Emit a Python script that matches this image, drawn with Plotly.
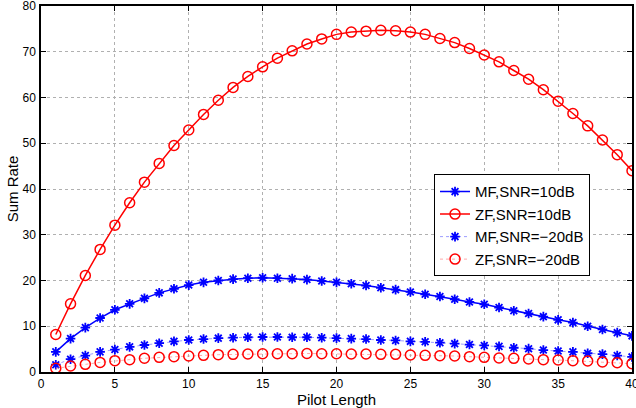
import plotly.graph_objects as go

pilot_length = list(range(1, 41))

mf_10db = [4.4, 7.3, 9.7, 11.8, 13.6, 14.9, 16.1, 17.3, 18.2, 19.0,
           19.6, 20.0, 20.3, 20.5, 20.6, 20.5, 20.4, 20.2, 19.9, 19.6,
           19.3, 18.9, 18.4, 18.0, 17.5, 17.0, 16.5, 15.9, 15.3, 14.8,
           14.1, 13.4, 12.8, 12.1, 11.4, 10.8, 10.0, 9.3, 8.6, 7.9]

zf_10db = [8.2, 14.9, 21.1, 26.8, 32.1, 37.0, 41.5, 45.6, 49.5, 52.9,
           56.3, 59.4, 62.2, 64.6, 66.7, 68.6, 70.2, 71.7, 72.8, 73.8,
           74.3, 74.5, 74.7, 74.6, 74.3, 73.8, 72.9, 72.0, 70.7, 69.3,
           67.8, 65.9, 64.0, 61.7, 59.2, 56.5, 53.8, 50.7, 47.5, 44.0]

mf_m20db = [1.6, 2.8, 3.6, 4.4, 4.9, 5.5, 5.9, 6.3, 6.7, 7.0,
            7.2, 7.4, 7.5, 7.6, 7.65, 7.65, 7.6, 7.6, 7.5, 7.4,
            7.3, 7.2, 7.0, 6.9, 6.7, 6.6, 6.4, 6.2, 6.0, 5.8,
            5.6, 5.3, 5.1, 4.8, 4.6, 4.4, 4.1, 3.9, 3.6, 3.3]

zf_m20db = [0.8, 1.3, 1.67, 2.1, 2.48, 2.7, 3.0, 3.2, 3.35, 3.5,
            3.64, 3.79, 3.86, 3.94, 4.0, 4.0, 4.0, 4.05, 4.0, 4.0,
            3.94, 3.94, 3.86, 3.86, 3.72, 3.64, 3.57, 3.5, 3.35, 3.2,
            3.06, 2.99, 2.84, 2.7, 2.62, 2.48, 2.4, 2.2, 2.04, 1.82]

x_ticks = list(range(0, 41, 5))
y_ticks = list(range(0, 81, 10))

BLUE = "#0000ff"
RED = "#ff0000"
FONT = "Liberation Sans, Arial, sans-serif"

fig = go.Figure()
fig.add_trace(go.Scatter(
    x=pilot_length, y=mf_10db, name="MF,SNR=10dB", mode="lines+markers",
    line=dict(color=BLUE, width=1.5),
    marker=dict(symbol="asterisk-open", size=8, color=BLUE, line=dict(color=BLUE, width=1.8))))
fig.add_trace(go.Scatter(
    x=pilot_length, y=zf_10db, name="ZF,SNR=10dB", mode="lines+markers",
    line=dict(color=RED, width=1.5),
    marker=dict(symbol="circle-open", size=10, color=RED, line=dict(color=RED, width=1.5))))
fig.add_trace(go.Scatter(
    x=pilot_length, y=mf_m20db, name="MF,SNR=\u221220dB", mode="lines+markers",
    line=dict(color="rgba(90,90,255,0.6)", width=1, dash="dot"),
    marker=dict(symbol="asterisk-open", size=8, color=BLUE, line=dict(color=BLUE, width=1.8))))
fig.add_trace(go.Scatter(
    x=pilot_length, y=zf_m20db, name="ZF,SNR=\u221220dB", mode="lines+markers",
    line=dict(color="rgba(255,110,110,0.6)", width=1, dash="dot"),
    marker=dict(symbol="circle-open", size=10, color=RED, line=dict(color=RED, width=1.5))))

axis_common = dict(
    showline=True, linecolor="black", linewidth=1.5, mirror="ticks",
    ticks="inside", ticklen=5, tickcolor="black", automargin=False,
    ticklabeloverflow="allow",
    showgrid=True, gridcolor="#b0b0b0", griddash="dot", gridwidth=1,
    zeroline=False, tickfont=dict(family=FONT, size=12, color="black"),
)

fig.update_xaxes(range=[0, 40], tickvals=x_ticks, ticklabelstandoff=0,
                 title=dict(text="Pilot Length", standoff=0,
                            font=dict(family=FONT, size=15, color="black")), **axis_common)
fig.update_yaxes(range=[0, 80], tickvals=y_ticks, ticklabelstandoff=1,
                 title=dict(text="Sum Rate", standoff=0,
                            font=dict(family=FONT, size=15, color="black")), **axis_common)

fig.update_layout(
    width=636, height=408,
    margin=dict(l=41, r=4, t=6, b=36),
    plot_bgcolor="white", paper_bgcolor="white",
    legend=dict(x=0.665, y=0.54, xanchor="left", yanchor="top",
                bgcolor="white", bordercolor="black", borderwidth=1,
                font=dict(family=FONT, size=15, color="black"),
                tracegroupgap=0, itemwidth=30),
    showlegend=True,
)

fig.write_html("out.html", config={"displayModeBar": False},
               post_script="document.body.style.margin='0';")
